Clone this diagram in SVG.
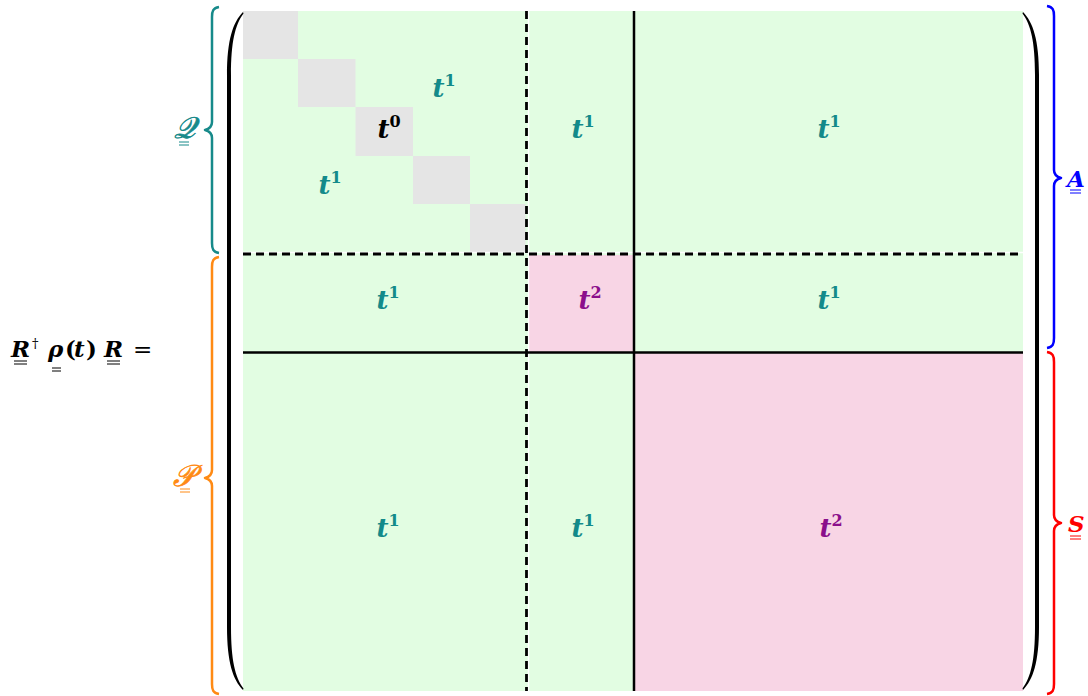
<svg xmlns="http://www.w3.org/2000/svg" width="1088" height="696" viewBox="0 0 1088 696">
<style>
.g{fill:#e2fde2}.gr{fill:#e5e5e5}.pk{fill:#f8d5e5}
.lbl{font-family:"DejaVu Serif","Liberation Serif",serif;font-weight:bold;font-style:italic;font-size:26px;text-anchor:middle}
.sup{font-size:16px;font-style:normal}
.teal{fill:#138a8a}.pur{fill:#8b0f8b}.blk{fill:#000}
.solid{stroke:#000;stroke-width:2.5;fill:none}
.dash{stroke:#000;stroke-width:2.8;fill:none;stroke-dasharray:8 5}
.wgap{stroke:#fff;stroke-width:1.5;fill:none}
.brace{fill:none;stroke-width:2.5;stroke-linejoin:round}
.m{font-family:"DejaVu Serif","Liberation Serif",serif;font-size:23px;font-weight:bold;font-style:italic}
.n{font-style:normal}
.ul{stroke-width:1}
.scr{font-family:"DejaVu Serif",serif;font-style:italic;font-size:30px;text-anchor:middle;stroke-width:0.7}
</style>
<g id="matrix">
<rect class="g" x="243" y="11" width="780" height="680"/>
<rect class="gr" x="243" y="11" width="55" height="48"/>
<rect class="gr" x="298" y="59" width="57.5" height="48"/>
<rect class="gr" x="355.5" y="107" width="57.5" height="49"/>
<rect class="gr" x="413" y="156" width="57" height="48"/>
<rect class="gr" x="470" y="204" width="55.5" height="49"/>
<rect class="pk" x="528" y="255" width="106" height="97"/>
<rect class="pk" x="634" y="352" width="389" height="339"/>
</g>
<g id="gridlines">
<line class="wgap" x1="528.5" y1="11" x2="528.5" y2="691"/>
<line class="wgap" x1="243" y1="252.5" x2="1023" y2="252.5"/>
<line class="dash" x1="526.5" y1="11" x2="526.5" y2="691"/>
<line class="dash" x1="243" y1="254" x2="1023" y2="254"/>
<line class="solid" x1="634" y1="11" x2="634" y2="691"/>
<line class="solid" x1="243" y1="352.5" x2="1023" y2="352.5"/>
</g>
<g id="labels">
<text class="lbl teal" x="444" y="97">t<tspan class="sup" dy="-11">1</tspan></text>
<text class="lbl blk" x="389" y="138">t<tspan class="sup" dy="-11">0</tspan></text>
<text class="lbl teal" x="330" y="194">t<tspan class="sup" dy="-11">1</tspan></text>
<text class="lbl teal" x="583" y="138">t<tspan class="sup" dy="-11">1</tspan></text>
<text class="lbl teal" x="829" y="138">t<tspan class="sup" dy="-11">1</tspan></text>
<text class="lbl teal" x="388" y="309">t<tspan class="sup" dy="-11">1</tspan></text>
<text class="lbl pur" x="590" y="309">t<tspan class="sup" dy="-11">2</tspan></text>
<text class="lbl teal" x="829" y="309">t<tspan class="sup" dy="-11">1</tspan></text>
<text class="lbl teal" x="388" y="537">t<tspan class="sup" dy="-11">1</tspan></text>
<text class="lbl teal" x="583" y="537">t<tspan class="sup" dy="-11">1</tspan></text>
<text class="lbl pur" x="831" y="537">t<tspan class="sup" dy="-11">2</tspan></text>
</g>
<g id="parens">
<path d="M243 12 C233 22 227 40 227 75 L227 627 C227 662 233 680 243 690 L243.5 688.5 C235 677 231 660 231 627 L231 75 C231 42 235 25 243.5 13.5 Z" fill="#000"/>
<path d="M1023 12 C1033 22 1039 40 1039 75 L1039 627 C1039 662 1033 680 1023 690 L1022.5 688.5 C1031 677 1035 660 1035 627 L1035 75 C1035 42 1031 25 1022.5 13.5 Z" fill="#000"/>
</g>
<g id="braceQ">
<path class="brace" stroke="#178a8a" d="M219 7 C213 8 212 11 212 17 L212 122 C212 127 209 129 205 130 C209 131 212 133 212 138 L212 243 C212 249 213 252 219 253"/>
<text class="scr" x="185" y="138" fill="#178a8a" stroke="#178a8a">𝒬</text>
<line class="ul" stroke="#178a8a" x1="179" y1="142" x2="189" y2="142"/>
<line class="ul" stroke="#178a8a" x1="179" y1="145" x2="189" y2="145"/>
</g>
<g id="braceP">
<path class="brace" stroke="#ff8a14" d="M219 257 C213 258 212 261 212 267 L212 470 C212 475 209 477 205 478 C209 479 212 481 212 486 L212 684 C212 690 213 693 219 694"/>
<text class="scr" x="184" y="486" fill="#ff8a14" stroke="#ff8a14">𝒫</text>
<line class="ul" stroke="#ff8a14" x1="180" y1="489" x2="190" y2="489"/>
<line class="ul" stroke="#ff8a14" x1="180" y1="492" x2="190" y2="492"/>
</g>
<g id="braceA">
<path class="brace" stroke="#0000ff" d="M1047 6 C1053 7 1054 10 1054 16 L1054 170 C1054 175 1057 177 1061 178 C1057 179 1054 181 1054 186 L1054 338 C1054 344 1053 347 1047 348"/>
<text x="1067" y="187" font-family="DejaVu Serif,serif" font-style="italic" font-weight="bold" font-size="23" fill="#0000ff">A</text>
<line class="ul" stroke="#0000ff" x1="1070" y1="190" x2="1081" y2="190"/>
<line class="ul" stroke="#0000ff" x1="1070" y1="193" x2="1081" y2="193"/>
</g>
<g id="braceS">
<path class="brace" stroke="#ff0000" d="M1047 352 C1053 353 1054 356 1054 362 L1054 515 C1054 520 1057 522 1061 523 C1057 524 1054 526 1054 531 L1054 684 C1054 690 1053 693 1047 694"/>
<text x="1068" y="532" font-family="DejaVu Serif,serif" font-style="italic" font-weight="bold" font-size="23" fill="#ff0000">S</text>
<line class="ul" stroke="#ff0000" x1="1070" y1="536" x2="1081" y2="536"/>
<line class="ul" stroke="#ff0000" x1="1070" y1="539" x2="1081" y2="539"/>
</g>
<g id="lhs">
<text class="m" x="11" y="357">R</text>
<text class="m n" x="32" y="348" style="font-size:13px;font-weight:normal">†</text>
<text class="m" x="48" y="357">ρ</text>
<text class="m n" x="65" y="357">(</text>
<text class="m" x="74" y="357">t</text>
<text class="m n" x="86" y="357">)</text>
<text class="m" x="104" y="357">R</text>
<text class="m n" x="133" y="357" style="font-weight:normal">=</text>
<g stroke="#000" class="ul">
<line x1="14" y1="361" x2="27" y2="361"/><line x1="14" y1="364" x2="27" y2="364"/>
<line x1="52" y1="368" x2="61" y2="368"/><line x1="52" y1="371" x2="61" y2="371"/>
<line x1="107" y1="361" x2="120" y2="361"/><line x1="107" y1="364" x2="120" y2="364"/>
</g>
</g>
</svg>
